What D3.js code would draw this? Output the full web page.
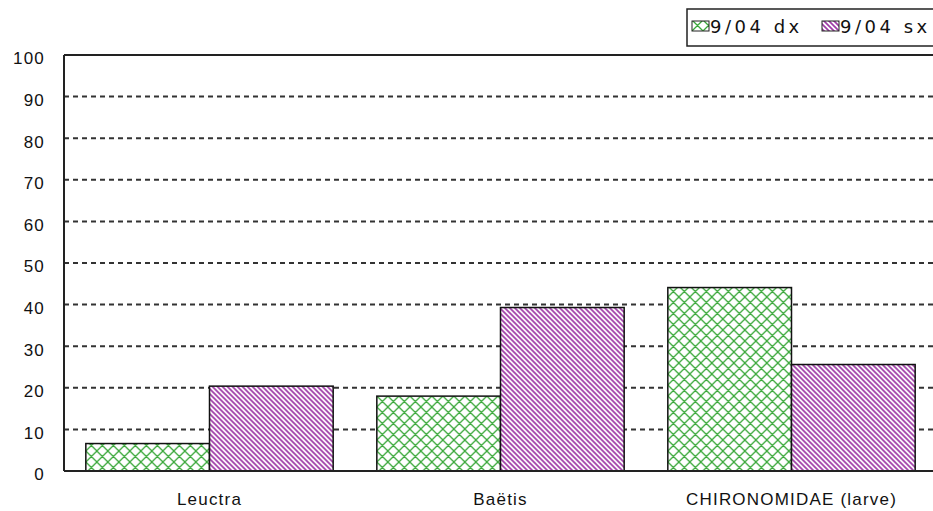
<!DOCTYPE html>
<meta charset="utf-8">
<style>
body { margin: 0; background: #fff; }
text { font-family: "Liberation Sans", Arial, sans-serif; fill: #111; }
.grid line { stroke: #333; stroke-width: 2px; stroke-dasharray: 5,4; }
.bar { stroke: #111; stroke-width: 1.5px; }
</style>
<body>
<script src="https://d3js.org/d3.v7.min.js"></script>
<script>

// data
var categories = ["Leuctra", "Baëtis", "CHIRONOMIDAE (larve)"];
var seriesNames = ["9/04 dx", "9/04 sx"];
var dxValues = [6.6, 18.0, 44.1];
var sxValues = [20.4, 39.3, 25.6];
var yTicks = [0, 10, 20, 30, 40, 50, 60, 70, 80, 90, 100];

var width = 933, height = 511;
var margin = {top: 55, right: -4, bottom: 40, left: 64};

var svg = d3.select("body").append("svg")
    .attr("width", width)
    .attr("height", height);

// hatch patterns
var defs = svg.append("defs");
var cross = defs.append("pattern")
    .attr("id", "cross")
    .attr("patternUnits", "userSpaceOnUse")
    .attr("width", 11).attr("height", 11);
cross.append("rect").attr("width", 11).attr("height", 11).attr("fill", "#fff");
cross.append("path")
    .attr("d", "M0,0L11,11M0,11L11,0M-1,1L1,-1M10,12L12,10M-1,10L1,12M10,-1L12,1")
    .attr("stroke", "#3aa83a").attr("stroke-width", 1.3);

var diag = defs.append("pattern")
    .attr("id", "diag")
    .attr("patternUnits", "userSpaceOnUse")
    .attr("width", 5).attr("height", 5);
diag.append("rect").attr("width", 5).attr("height", 5).attr("fill", "#fff");
diag.append("path")
    .attr("d", "M0,0L5,5M-1,4L1,6M4,-1L6,1")
    .attr("stroke", "#a03ca8").attr("stroke-width", 1.7);

var fills = ["url(#cross)", "url(#diag)"];

var x0 = d3.scaleBand()
    .domain(categories)
    .range([margin.left, width - margin.right])
    .paddingInner(0.15)
    .paddingOuter(0.075);

var x1 = d3.scaleBand()
    .domain(seriesNames)
    .range([0, x0.bandwidth()]);

var y = d3.scaleLinear()
    .domain([0, 100])
    .range([height - margin.bottom, margin.top]);

// dashed grid
svg.append("g")
    .attr("class", "grid")
    .selectAll("line")
    .data(yTicks.filter(function(d) { return d > 0 && d < 100; }))
    .enter().append("line")
    .attr("x1", margin.left).attr("x2", width)
    .attr("y1", function(d) { return y(d); })
    .attr("y2", function(d) { return y(d); });

// bars
var groups = svg.append("g").selectAll("g")
    .data(categories)
    .enter().append("g")
    .attr("transform", function(d) { return "translate(" + x0(d) + ",0)"; });

groups.selectAll("rect")
    .data(function(d, i) {
      return [{s: seriesNames[0], v: dxValues[i], k: 0}, {s: seriesNames[1], v: sxValues[i], k: 1}];
    })
    .enter().append("rect")
    .attr("class", "bar")
    .attr("x", function(d) { return x1(d.s); })
    .attr("width", x1.bandwidth())
    .attr("y", function(d) { return y(d.v); })
    .attr("height", function(d) { return y(0) - y(d.v); })
    .attr("fill", function(d) { return fills[d.k]; });

// frame lines: left axis, top, baseline
svg.append("line")
    .attr("x1", margin.left).attr("x2", margin.left)
    .attr("y1", y(100)).attr("y2", y(0))
    .attr("stroke", "#222").attr("stroke-width", 2);
svg.append("line")
    .attr("x1", margin.left).attr("x2", width)
    .attr("y1", y(100)).attr("y2", y(100))
    .attr("stroke", "#222").attr("stroke-width", 2);
svg.append("line")
    .attr("x1", margin.left).attr("x2", width)
    .attr("y1", y(0)).attr("y2", y(0))
    .attr("stroke", "#222").attr("stroke-width", 2);

// y axis labels
var yAxis = svg.append("g")
    .attr("transform", "translate(" + margin.left + ",0)")
    .call(d3.axisLeft(y).tickValues(yTicks).tickSize(0).tickPadding(19));
yAxis.select(".domain").remove();
yAxis.selectAll("text")
    .attr("dy", "0.52em")
    .style("font-size", "17px")
    .style("letter-spacing", "1.2px");

// x axis labels
var xAxis = svg.append("g")
    .attr("transform", "translate(0," + y(0) + ")")
    .call(d3.axisBottom(x0).tickSize(0).tickPadding(22));
xAxis.select(".domain").remove();
xAxis.selectAll("text")
    .style("font-size", "17px")
    .style("letter-spacing", "1.2px");

// legend
var legend = svg.append("g").attr("transform", "translate(687,9)");
legend.append("rect")
    .attr("width", 260).attr("height", 37)
    .attr("fill", "#fff").attr("stroke", "#222").attr("stroke-width", 1.5);
var items = legend.selectAll("g.item")
    .data(seriesNames)
    .enter().append("g")
    .attr("class", "item")
    .attr("transform", function(d, i) { return "translate(" + (5 + i * 130) + ",0)"; });
items.append("rect")
    .attr("y", 12).attr("width", 17).attr("height", 10)
    .attr("fill", function(d, i) { return fills[i]; })
    .attr("stroke", "#222").attr("stroke-width", 1);
items.append("text")
    .attr("x", 18).attr("y", 24)
    .style("font-family", "'DejaVu Sans', sans-serif")
    .style("font-size", "18px")
    .style("letter-spacing", "3.5px")
    .text(function(d) { return d; });

</script>
</body>
